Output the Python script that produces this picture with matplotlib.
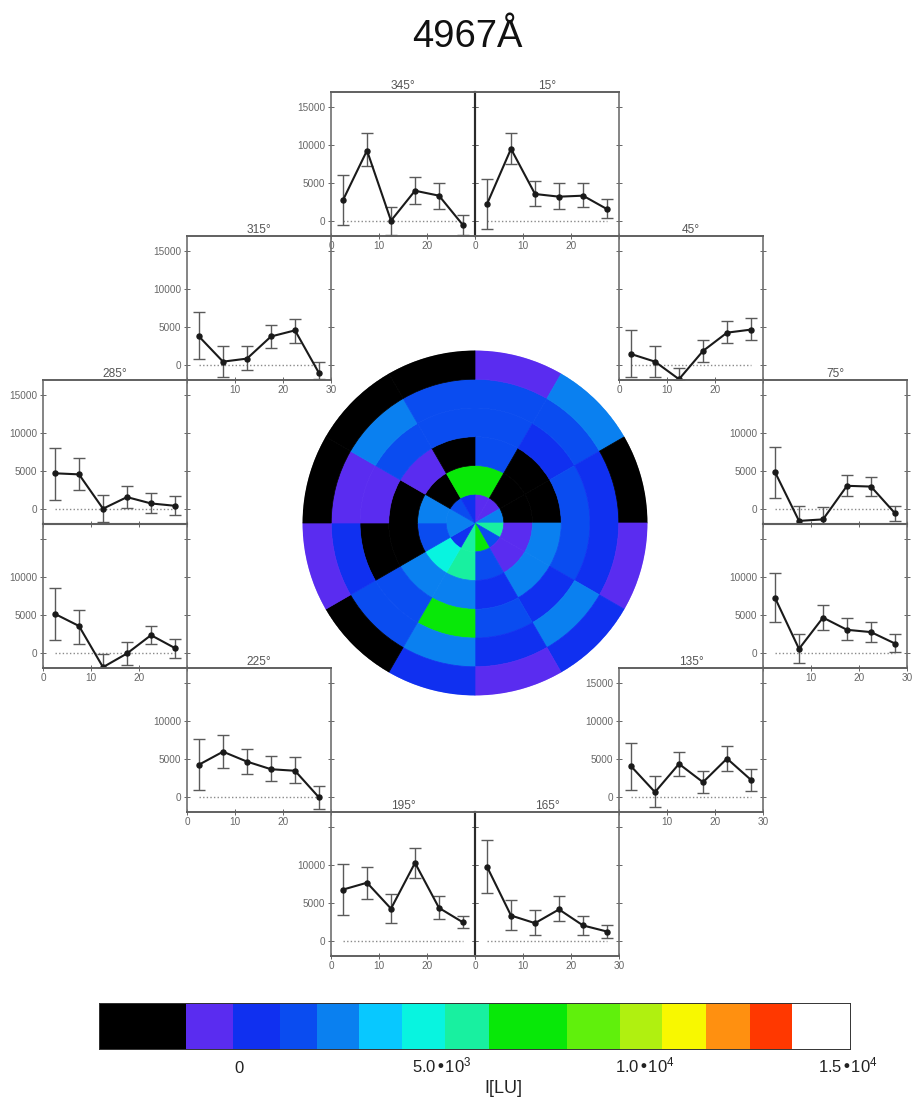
import numpy as np
import matplotlib
matplotlib.use("Agg")
import matplotlib.pyplot as plt
from matplotlib.colors import ListedColormap, BoundaryNorm

plt.rcParams["font.family"] = ["Liberation Sans", "DejaVu Sans"]
plt.rcParams["mathtext.default"] = "regular"

W, H = 914, 1102

# radial bins of the profiles
radius = [2.5, 7.5, 12.5, 17.5, 22.5, 27.5]

# profile values, then upper and lower end of the error bars
v345 = [2800, 9300, 100, 4030, 3380, -480]
hi345 = [6150, 11580, 1930, 5880, 5090, 830]
lo345 = [-480, 7240, -1750, 2280, 1580, -1750]
v15 = [2280, 9520, 3600, 3250, 3380, 1620]
hi15 = [5530, 11620, 5260, 5000, 5090, 2980]
lo15 = [-1050, 7540, 1970, 1580, 1840, 400]
v315 = [3800, 500, 900, 3800, 4600, -1000]
hi315 = [7000, 2500, 2500, 5300, 6100, 400]
lo315 = [800, -1500, -600, 2300, 3000, -1800]
v45 = [1500, 500, -1800, 1900, 4300, 4700]
hi45 = [4600, 2500, -300, 3300, 5800, 6200]
lo45 = [-1500, -1500, -1840, 500, 2900, 3300]
v285 = [4740, 4600, 100, 1620, 790, 480]
hi285 = [8100, 6800, 1930, 3070, 2150, 1710]
lo285 = [1300, 2540, -1700, 130, -400, -790]
v75 = [4900, -1500, -1300, 3100, 3000, -500]
hi75 = [8200, 500, 300, 4500, 4200, 400]
lo75 = [1500, -1840, -1840, 1700, 1800, -1500]
v255 = [5180, 3600, -1800, 0, 2400, 700]
hi255 = [8600, 5700, -130, 1490, 3640, 1930]
lo255 = [1750, 1300, -1840, -1450, 1230, -570]
v105 = [7300, 600, 4700, 3100, 2800, 1300]
hi105 = [10600, 2500, 6300, 4600, 4100, 2500]
lo105 = [4100, -1200, 3100, 1700, 1500, 200]
v225 = [4300, 6000, 4700, 3700, 3500, 0]
hi225 = [7600, 8200, 6400, 5400, 5300, 1500]
lo225 = [1000, 3800, 3100, 2200, 1900, -1500]
v135 = [4100, 700, 4400, 2000, 5100, 2300]
hi135 = [7200, 2800, 6000, 3500, 6800, 3700]
lo135 = [1000, -1300, 2800, 600, 3500, 900]
v195 = [6800, 7700, 4300, 10300, 4400, 2500]
hi195 = [10200, 9800, 6200, 12200, 5900, 3300]
lo195 = [3500, 5600, 2400, 8300, 3000, 1700]
v165 = [9800, 3400, 2400, 4200, 2100, 1300]
hi165 = [13300, 5400, 4100, 6000, 3400, 2200]
lo165 = [6400, 1500, 800, 2700, 900, 500]

# disc cell intensities as read from the colours, rows = sectors clockwise
# from north, columns = rings from centre to edge
disc = [
    [-500, 7000, 1500, 1500, 1500, -700],     # 15
    [-700, -2000, -2000, 500, 1500, 2500],    # 45
    [2500, -2000, -2000, 1500, 500, -2000],   # 75
    [5500, -700, 2500, 1500, 500, -700],      # 105
    [1500, -700, 2500, 500, 2500, 500],       # 135
    [7000, 1500, 500, 1500, 500, -700],       # 165
    [5500, 5500, 2500, 7000, 2500, 500],      # 195
    [500, 4500, 2500, 1500, 1500, -2000],     # 225
    [2500, 1500, -2000, -2000, 500, -700],    # 255
    [2500, 2500, -2000, -700, -700, -2000],   # 285
    [1500, -2000, -700, 1500, 2500, -2000],   # 315
    [500, 7000, -2000, 1500, 1500, -2000],    # 345
]
sector_start = [0, 30, 60, 90, 120, 150, 180, 210, 240, 270, 300, 330]
ring_start = [0, 5, 10, 15, 20, 25]

# colour bar bands
band_edges = [-3450, -1305, -148, 1000, 1921, 2956, 4015, 5074, 6158, 8079,
              9384, 10419, 11502, 12586, 13621, 15050]
band_colors = ["#000000", "#5a2cf0", "#1030f0", "#0a4cf0", "#0a80f0", "#08c8ff",
               "#08f4e0", "#18f0a0", "#08e808", "#60f00c", "#b0f010", "#f8f800",
               "#ff9010", "#ff3800", "#ffffff"]
bar_ticks = [0, 5000, 10000, 15000]
bar_labels = ["0", "5.0•10$^3$", "1.0•10$^4$", "1.5•10$^4$"]

x_ticks = [0, 10, 20, 30]
y_ticks = [0, 5000, 10000, 15000]

cmap = ListedColormap(band_colors)
norm = BoundaryNorm(band_edges, cmap.N)


def px_axes(fig, x0, y0, x1, y1, **kw):
    # axes from pixel box, y counted from the top of the image
    return fig.add_axes([x0 / W, 1 - y1 / H, (x1 - x0) / W, (y1 - y0) / H], **kw)


def panel(fig, left, top, title, v, hi, lo, xshow, yshow, heavy=()):
    ax = px_axes(fig, left, top, left + 144, top + 143.5)
    ax.patch.set_alpha(0)
    ax.plot([2.5, 27.5], [0, 0], ls=(0, (1, 1.6)), color="#8a8a8a", lw=1.0)
    v = np.array(v)
    ax.errorbar(radius, v, yerr=[v - np.array(lo), np.array(hi) - v], fmt="none",
                ecolor="#5a5a5a", elinewidth=1.0, capsize=4.2, capthick=1.0)
    ax.plot(radius, v, "-o", color="#1a1a1a", lw=1.5, ms=3.6)
    ax.set_xlim(0, 30)
    ax.set_ylim(-1840, 16970)
    ax.set_xticks(x_ticks)
    ax.set_xticklabels([str(t) if t in xshow else "" for t in x_ticks])
    ax.set_yticks(y_ticks)
    ax.set_yticklabels([str(t) if t in yshow else "" for t in y_ticks])
    ax.tick_params(axis="both", labelsize=7.2, labelcolor="#666666", color="#666666",
                   length=4, width=0.7, pad=2, direction="inout")
    ax.tick_params(axis="y", right=True)
    for side in ["left", "right"]:
        ax.spines[side].set_linestyle((0, (2.5, 1)))
        ax.spines[side].set_color("#707070")
        ax.spines[side].set_linewidth(1.2)
    for side in ["top", "bottom"]:
        ax.spines[side].set_color("#606060")
        ax.spines[side].set_linewidth(1.4)
    for side in heavy:
        ax.spines[side].set_linestyle("-")
        ax.spines[side].set_color("#2a2a2a")
        ax.spines[side].set_linewidth(1.5)
    if title:
        ax.set_title(title, fontsize=8.6, color="#555555", pad=2.5)
    return ax


fig = plt.figure(figsize=(W / 100, H / 100), dpi=100, facecolor="white")
fig.text(467 / W, 1 - 47 / H, "4967Å", fontsize=27.5, ha="center", va="baseline", color="#111111")

panel(fig, 331, 92, "345°", v345, hi345, lo345, [0, 10, 20], [0, 5000, 10000, 15000], heavy=["right"])
panel(fig, 475, 92, "15°", v15, hi15, lo15, [0, 10, 20], [], heavy=["left"])
panel(fig, 187, 236, "315°", v315, hi315, lo315, [10, 20, 30], [0, 5000, 10000, 15000])
panel(fig, 619, 236, "45°", v45, hi45, lo45, [0, 10, 20], [])
panel(fig, 43, 380, "285°", v285, hi285, lo285, [], [0, 5000, 10000, 15000], heavy=["bottom"])
panel(fig, 763, 380, "75°", v75, hi75, lo75, [], [0, 5000, 10000], heavy=["bottom"])
panel(fig, 43, 524, "", v255, hi255, lo255, [0, 10, 20], [0, 5000, 10000])
panel(fig, 763, 524, "", v105, hi105, lo105, [10, 20, 30], [0, 5000, 10000])
panel(fig, 187, 668, "225°", v225, hi225, lo225, [0, 10, 20], [0, 5000, 10000])
panel(fig, 619, 668, "135°", v135, hi135, lo135, [10, 20, 30], [0, 5000, 10000, 15000])
panel(fig, 331, 812, "195°", v195, hi195, lo195, [0, 10, 20], [0, 5000, 10000], heavy=["right"])
panel(fig, 475, 812, "165°", v165, hi165, lo165, [0, 10, 20, 30], [], heavy=["left"])

# polar disc, edge in the cell colour hides the seams between cells
pol = px_axes(fig, 475 - 172.5, 523 - 172.5, 475 + 172.5, 523 + 172.5, projection="polar")
pol.set_theta_zero_location("N")
pol.set_theta_direction(-1)
for s, row in zip(sector_start, disc):
    for r, val in zip(ring_start, row):
        c = cmap(norm(val))
        pol.bar(np.deg2rad(s), 5, width=np.deg2rad(30), bottom=r, align="edge",
                color=c, edgecolor=c, linewidth=0.5)
pol.set_ylim(0, 30)
pol.axis("off")

# colour bar
cb = px_axes(fig, 99, 1003, 850, 1049)
cb.pcolormesh(band_edges, [0, 1], np.array([band_edges[:-1]]) + 1, cmap=cmap, norm=norm)
cb.set_xlim(band_edges[0], band_edges[-1])
cb.set_yticks([])
cb.set_xticks(bar_ticks)
cb.set_xticklabels(bar_labels, fontsize=12, color="#222222", va="baseline")
cb.tick_params(axis="x", length=0, pad=17)
for s in cb.spines.values():
    s.set_linewidth(0.7)
    s.set_color("#333333")
fig.text(503 / W, 1 - 1093 / H, "I[LU]", fontsize=13, color="#222222", ha="center", va="baseline")

fig.savefig("out.png", dpi=100)
